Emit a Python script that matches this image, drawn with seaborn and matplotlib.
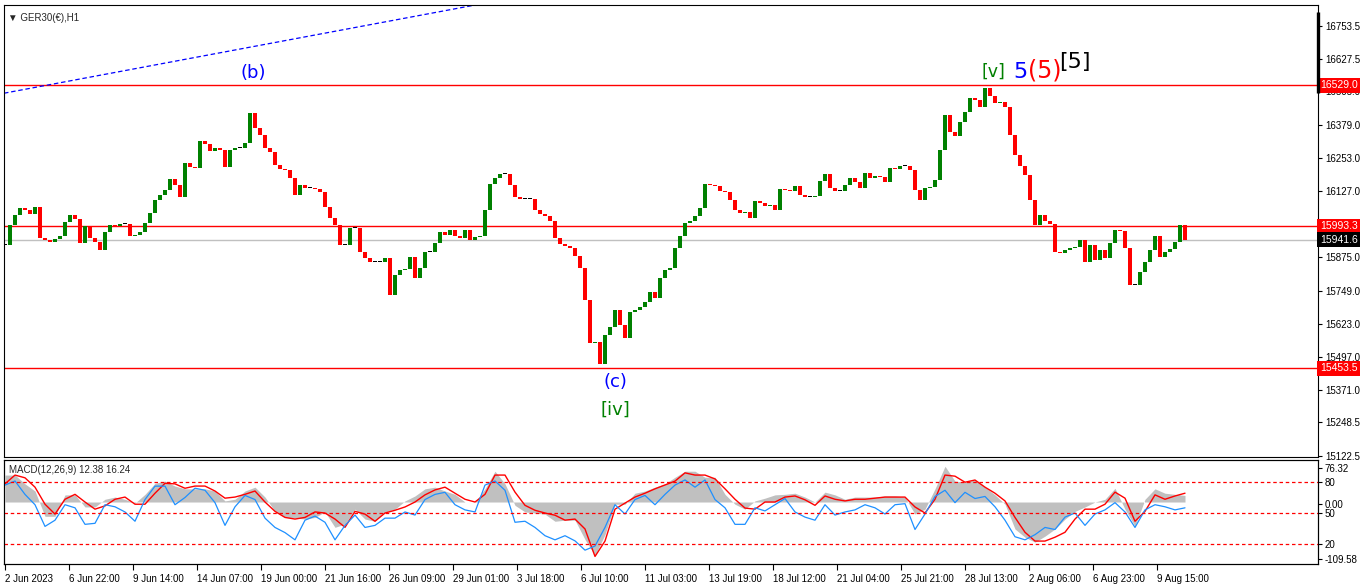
import matplotlib
matplotlib.use('Agg')
import matplotlib.pyplot as plt
import seaborn as sns
import numpy as np
import pandas as pd

# --- data ---
# GER30 H1 closes, one sample every 5 bars (2 Jun -> 10 Aug 2023)
closes = [
    15922, 15998, 16036, 16063, 16055, 16040, 16066, 15949, 15941, 15934,
    15945, 15956, 16010, 16036, 16021, 15930, 15994, 15949, 15934, 15903,
    15972, 15998, 15994, 16002, 16002, 15956, 15960, 15972, 16006, 16044,
    16093, 16112, 16131, 16173, 16150, 16104, 16233, 16218, 16214, 16317,
    16306, 16279, 16290, 16283, 16218, 16283, 16290, 16290, 16309, 16423,
    16366, 16340, 16290, 16275, 16226, 16211, 16207, 16176, 16112, 16150,
    16139, 16139, 16135, 16123, 16066, 16025, 15998, 15922, 15922, 15987,
    15987, 15896, 15873, 15858, 15858, 15858, 15873, 15732, 15808, 15827,
    15831, 15877, 15797, 15835, 15896, 15896, 15930, 15972, 15960, 15979,
    15956, 15949, 15979, 15941, 15952, 15956, 16055, 16154, 16176, 16192,
    16192, 16150, 16104, 16097, 16097, 16097, 16055, 16040, 16032, 16013,
    15949, 15926, 15918, 15911, 15880, 15835, 15713, 15550, 15554, 15470,
    15581, 15611, 15675, 15619, 15569, 15668, 15675, 15687, 15706, 15744,
    15721, 15797, 15827, 15835, 15911, 15956, 16006, 16013, 16032, 16063,
    16154, 16150, 16146, 16127, 16123, 16093, 16055, 16044, 16047, 16025,
    16089, 16082, 16070, 16074, 16055, 16135, 16131, 16127, 16146, 16112,
    16104, 16104, 16108, 16165, 16192, 16139, 16127, 16127, 16150, 16176,
    16161, 16139, 16196, 16176, 16184, 16180, 16161, 16214, 16211, 16222,
    16222, 16207, 16131, 16093, 16139, 16142, 16169, 16283, 16416, 16351,
    16336, 16389, 16427, 16480, 16473, 16446, 16518, 16488, 16461, 16465,
    16446, 16340, 16264, 16222, 16188, 16093, 15998, 16036, 16013, 16002,
    15896, 15892, 15903, 15911, 15915, 15941, 15858, 15922, 15865, 15903,
    15873, 15930, 15979, 15975, 15911, 15770, 15770, 15820, 15858, 15903,
    15956, 15877, 15896, 15907, 15934, 15998, 15941.6,
]
bar_step = 5

# MACD(12,26,9) window, one sample every 10 bars
macd_main = [
    49, 49, 33, 20, -26, -26, 13, 13, -9, -9,
    5, 9, 5, -2, 14, 34, 38, 29, 24, 24,
    24, 20, 2, 5, 20, 27, 9, -17, -28, -29,
    -31, -28, -18, -46, -40, -13, -31, -35, -18, -13,
    2, 11, 24, 27, 20, 14, 0, 0, 24, 56,
    33, -6, -18, -20, -22, -35, -33, -33, -68, -97,
    -59, -4, -4, 16, 20, 27, 33, 45, 56, 56,
    45, 45, 14, -4, -13, 2, 7, 13, 14, 16,
    9, 0, 18, 13, 5, 9, 9, 9, 11, 11,
    9, -22, -13, 24, 65, 38, 36, 40, 27, 13,
    -4, -49, -64, -73, -62, -49, -31, -17, -9, 0,
    5, 25, -13, -44, 5, 24, 16, 14, 12,
]
macd_signal = [
    33, 49, 44, 27, -4, -22, 5, 14, 0, -13,
    -7, 5, 9, -4, -4, 16, 34, 33, 25, 29,
    29, 20, 7, 9, 14, 20, 0, -17, -28, -31,
    -28, -18, -20, -31, -46, -17, -22, -35, -20, -15,
    -9, 0, 13, 22, 27, 16, 5, 0, 14, 49,
    49, 18, -6, -15, -20, -24, -33, -31, -49, -99,
    -71, -13, -2, 9, 16, 24, 31, 38, 53, 49,
    49, 42, 24, 5, -11, -13, 0, 0, 9, 11,
    4, -6, 11, 5, 2, 5, 5, 7, 9, 9,
    9, -9, -20, 5, 49, 47, 36, 40, 27, 16,
    2, -28, -55, -71, -71, -64, -55, -31, -13, -13,
    -4, 18, 7, -35, -17, 13, 5, 11, 16,
]
# blue oscillator drawn on a 0-100 scale with 80/50/20 levels
osc_line = [
    77, 81, 68, 58, 37, 43, 58, 55, 39, 40,
    58, 56, 51, 42, 63, 76, 76, 58, 65, 74,
    72, 60, 38, 56, 67, 63, 45, 36, 31, 24,
    43, 47, 41, 24, 38, 48, 36, 38, 45, 45,
    51, 48, 63, 68, 70, 58, 53, 51, 77, 81,
    72, 41, 42, 36, 28, 24, 28, 23, 14, 18,
    36, 58, 49, 63, 67, 58, 68, 77, 82, 75,
    82, 63, 55, 39, 39, 55, 52, 58, 64, 51,
    46, 43, 58, 48, 51, 53, 58, 55, 49, 58,
    59, 34, 49, 66, 72, 60, 70, 64, 66, 56,
    43, 27, 24, 29, 36, 34, 46, 50, 38, 49,
    53, 60, 51, 36, 53, 58, 56, 53, 55,
]
macd_step = 10
osc_levels = [80, 50, 20]

red_levels = [16529.0, 15993.3, 15453.5]
bid_price = 15941.6
price_ticks = [16753.5, 16627.5, 16505.0, 16379.0, 16253.0, 16127.0, 15875.0,
               15749.0, 15623.0, 15497.0, 15371.0, 15248.5, 15122.5]
time_labels = ['2 Jun 2023', '6 Jun 22:00', '9 Jun 14:00', '14 Jun 07:00',
               '19 Jun 00:00', '21 Jun 16:00', '26 Jun 09:00', '29 Jun 01:00',
               '3 Jul 18:00', '6 Jul 10:00', '11 Jul 03:00', '13 Jul 19:00',
               '18 Jul 12:00', '21 Jul 04:00', '25 Jul 21:00', '28 Jul 13:00',
               '2 Aug 06:00', '6 Aug 23:00', '9 Aug 15:00']
time_step = 64

# trendline anchors (bar, price)
trend_a = (0, 16499)
trend_b = (470, 16833)

# Elliott wave labels: text, bar, price, colour, size
wave_labels = [
    ('(b)', 248, 16575, 'blue', 13),
    ('(c)', 610, 15402, 'blue', 13),
    ('[iv]', 610, 15296, 'green', 13),
    ('[v]', 988, 16580, 'green', 12.5),
    ('5', 1015, 16577, 'blue', 16),
    ('(5)', 1040, 16586, 'red', 17),
    ('[5]', 1070, 16615, 'black', 16),
]

# --- style ---
sns.set_theme(style='white')
plt.rcParams['font.family'] = ['Liberation Sans', 'DejaVu Sans']
plt.rcParams['axes.edgecolor'] = 'black'
plt.rcParams['axes.linewidth'] = 0.8

fig = plt.figure(figsize=(13.66, 5.88), dpi=100)
W, H = 1366, 588
ax = fig.add_axes([4 / W, 1 - 457 / H, 1314 / W, 452 / H])
ax_m = fig.add_axes([4 / W, 1 - 564 / H, 1314 / W, 104 / H])
ax_o = ax_m.twinx()

xlim = (-1, 1313)

# --- price panel ---
df = pd.DataFrame({'close': closes})
df['bar'] = np.arange(len(df)) * bar_step
df['open'] = df['close'].shift(1).fillna(df['close'].iloc[0])
df['color'] = np.where(df['close'] > df['open'], '#008000',
                       np.where(df['close'] < df['open'], '#ff0000', 'black'))
body = (df['close'] - df['open']).abs().clip(lower=3)
ax.bar(df['bar'], body, bottom=df[['open', 'close']].min(axis=1),
       width=3.6, color=df['color'], linewidth=0, zorder=3)

for lv in red_levels:
    ax.axhline(lv, color='red', lw=1, zorder=2)
ax.axhline(bid_price, color='#c0c0c0', lw=1, zorder=1)
ax.axline(trend_a, trend_b, color='blue', lw=0.9, dashes=(3.6, 2.2), zorder=2)

for txt, b, p, c, s in wave_labels:
    ax.text(b, p, txt, color=c, fontsize=s, ha='center', va='center',
            family='DejaVu Sans', zorder=5)

ax.text(0.003, 0.983, '\u25bc GER30(\u20ac),H1', transform=ax.transAxes,
        ha='left', va='top', fontsize=7, family=['Liberation Sans', 'DejaVu Sans'])

ax.set_xlim(*xlim)
ax.set_ylim(15117.4, 16833.2)
ax.set_xticks([])
ax.yaxis.tick_right()
ax.set_yticks(price_ticks)
ax.set_yticklabels([f'{v:.1f}' for v in price_ticks])
ax.tick_params(axis='y', direction='out', length=3, width=0.8, labelsize=7, pad=2,
               colors='black')

ytr = ax.get_yaxis_transform()
for lv in red_levels:
    ax.text(1.0015, lv, f'{lv:.1f}', transform=ytr, color='white', fontsize=7.5,
            ha='left', va='center', zorder=10, clip_on=False,
            bbox=dict(boxstyle='square,pad=0.25', fc='red', ec='none'))
ax.text(1.0015, bid_price, f'{bid_price:.1f}', transform=ytr, color='white',
        fontsize=7.5, ha='left', va='center', zorder=10, clip_on=False,
        bbox=dict(boxstyle='square,pad=0.25', fc='black', ec='none'))
ax.plot([1, 1], [16806, 16499], transform=ytr, color='black', lw=2.4,
        solid_capstyle='butt', clip_on=False, zorder=10)

# --- MACD panel ---
mbars = np.arange(len(macd_main)) * macd_step
ax_m.fill_between(mbars, 0, macd_main, color='#c0c0c0', lw=0)
sns.lineplot(x=mbars, y=macd_signal, ax=ax_m, color='red', lw=1)
ax_m.set_ylim(-112.7, 76.4)
ax_m.set_xlim(*xlim)
ax_m.set_yticks([])
ax_m.set_ylabel('')

sns.lineplot(x=mbars, y=osc_line, ax=ax_o, color='#1e90ff', lw=0.9)
for lv in osc_levels:
    ax_o.axhline(lv, color='red', lw=0.9, dashes=(2.8, 2.2))
ax_o.set_ylim(0.6, 101.3)
ax_o.set_ylabel('')
ax_o.set_yticks([93.6, 80, 58.8, 50, 20, 5.5])
ax_o.set_yticklabels(['76.32', '80', '0.00', '50', '20', '-109.58'])
ax_o.tick_params(axis='y', direction='out', length=3, width=0.8, labelsize=7,
                 pad=2, colors='black')
ax_o.text(0.004, 0.95, 'MACD(12,26,9) 12.38 16.24', transform=ax_o.transAxes,
          ha='left', va='top', fontsize=7)

# time axis (twin shares x with the MACD axes)
ticks = np.arange(len(time_labels)) * time_step
ax_m.set_xlim(*xlim)
ax_m.set_xticks(ticks)
ax_m.set_xticklabels(time_labels, ha='left')
ax_m.tick_params(axis='x', direction='out', length=4, width=0.8, labelsize=7,
                 pad=3, colors='black', bottom=True, labelbottom=True)
ax_o.tick_params(axis='x', bottom=False, top=False, labelbottom=False, labeltop=False)

for a in (ax, ax_m, ax_o):
    for sp in a.spines.values():
        sp.set_visible(True)
        sp.set_color('black')
        sp.set_linewidth(0.8)

fig.savefig('out.png', dpi=100, facecolor='white')
